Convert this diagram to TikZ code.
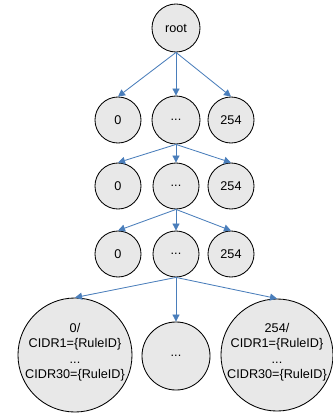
\documentclass[tikz,border=0pt]{standalone}
\usepackage{fontspec}
\setmainfont{Liberation Sans}
\usetikzlibrary{arrows.meta}
\definecolor{arrowblue}{RGB}{74,126,187}
\definecolor{nodegray}{RGB}{232,232,232}

\begin{document}
\begin{tikzpicture}[x=0.025cm, y=-0.025cm]
                \tikzstyle{circ}=[circle, draw, fill=nodegray, line width=0.6pt, inner sep=0pt, minimum size=1.15cm, font=\fontsize{9}{11}\selectfont]
                \tikzstyle{edge}=[draw=arrowblue, line width=0.6pt, -{Triangle[length=5pt,width=5pt]}]
                \tikzstyle{txt}=[align=center, inner sep=0pt, font=\fontsize{9}{11}\selectfont]
                \useasboundingbox (0,0) rectangle (332,415);

                \node[circ, minimum size=1.2cm] (root) at (176,28) {root};

                \node[circ] (a0) at (118,120) {0};
                \node[circ, minimum size=1.2cm] (a1) at (176,120) {...};
                \node[circ] (a2) at (231,120) {254};

                \node[circ] (b0) at (118,186) {0};
                \node[circ] (b1) at (176,186) {...};
                \node[circ] (b2) at (231,186) {254};

                \node[circ] (c0) at (118,254) {0};
                \node[circ] (c1) at (176,254) {...};
                \node[circ] (c2) at (231,254) {254};

                \node[circ, minimum size=2.85cm] (d0) at (75,355) {};
                \node[circ, minimum size=1.7cm] (d1) at (176,356) {...};
                \node[circ, minimum size=2.8cm] (d2) at (277,355) {};

                \node[txt] (t0) at (75,352) {0/\\CIDR1=\{RuleID\}\\...\\CIDR30=\{RuleID\}};
                \node[txt] (t2) at (277,352) {254/\\CIDR1=\{RuleID\}\\...\\CIDR30=\{RuleID\}};

                \foreach \p/\c in {root/a, a1/b, b1/c, c1/d} {
                    \foreach \i in {0,1,2}
                        \draw[edge] (\p.south) -- (\c\i.north);
                }
            \end{tikzpicture}
\end{document}
